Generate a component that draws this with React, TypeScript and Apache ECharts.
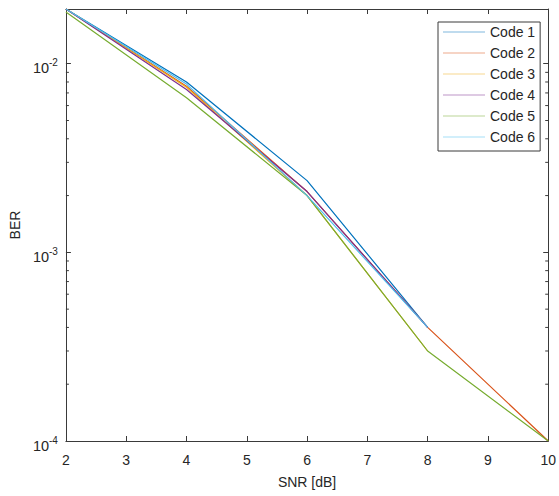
import React, { useEffect, useRef } from "react";
import * as echarts from "echarts";

const snr = [2, 4, 6, 8, 10];
const seriesNames = ["Code 1", "Code 2", "Code 3", "Code 4", "Code 5", "Code 6"];
const code1 = [0.0195, 0.0080, 0.0024, 0.0004, null];
const code2 = [0.0195, 0.0076, 0.0021, 0.0004, 0.0001];
const code3 = [0.0195, 0.0075, 0.0020, 0.0003, null];
const code4 = [0.0195, 0.0073, 0.0021, 0.0004, null];
const code5 = [0.0188, 0.0066, 0.0020, 0.0003, 0.0001];
const code6 = [0.0195, 0.0078, 0.0020, 0.0004, null];
const seriesValues = [code1, code2, code3, code4, code5, code6];
const colors = ["#0072BD", "#D95319", "#EDB120", "#7E2F8E", "#77AC30", "#4DBEEE"];
const minorTickValues = [
  2e-4, 3e-4, 4e-4, 5e-4, 6e-4, 7e-4, 8e-4, 9e-4,
  2e-3, 3e-3, 4e-3, 5e-3, 6e-3, 7e-3, 8e-3, 9e-3,
];
const X_MIN = 2;
const X_MAX = 10;
const Y_MIN = 1e-4;
const Y_MAX = 0.0195;

const FONT = "'Liberation Sans', Arial, Helvetica, sans-serif";
const AXIS_COLOR = "#3a3a3a";
const TEXT_COLOR = "#262626";
const LINE_ICON = "path://M0,0L100,0L100,1L0,1Z";

export default function App() {
  const ref = useRef<HTMLDivElement>(null);
  useEffect(() => {
    if (!ref.current) return;
    const chart = echarts.init(ref.current, null, { renderer: "svg" });
    const lineSeries = seriesNames.map((name, i) => ({
      name,
      type: "line",
      data: snr.map((x, j) => [x, seriesValues[i][j]]),
      symbol: "none",
      showSymbol: false,
      connectNulls: false,
      lineStyle: { color: colors[i], width: 1.2 },
      itemStyle: { color: colors[i] },
      emphasis: { disabled: true },
      z: 2 + i,
    }));
    const option: any = {
      animation: false,
      textStyle: { fontFamily: FONT },
      grid: { left: 64, right: 8, top: 9, bottom: 55, containLabel: false },
      legend: {
        data: seriesNames.map((n) => ({ name: n, icon: LINE_ICON })),
        orient: "vertical",
        left: 438,
        top: 22,
        itemWidth: 42,
        itemHeight: 1.5,
        itemGap: 5,
        padding: [2, 5, 6, 5],
        backgroundColor: "#ffffff",
        borderColor: AXIS_COLOR,
        borderWidth: 1,
        borderRadius: 0,
        selectedMode: false,
        textStyle: { fontSize: 14, color: TEXT_COLOR, fontFamily: FONT, lineHeight: 16 },
      },
      xAxis: [
        {
          type: "value",
          min: X_MIN,
          max: X_MAX,
          interval: 1,
          name: "SNR [dB]",
          nameLocation: "middle",
          nameGap: 34,
          nameTextStyle: { fontSize: 14, color: TEXT_COLOR, fontFamily: FONT },
          axisLine: { show: true, lineStyle: { color: AXIS_COLOR, width: 1 } },
          axisTick: { show: true, inside: true, length: 5, lineStyle: { color: AXIS_COLOR } },
          axisLabel: { fontSize: 14, color: TEXT_COLOR, margin: 12, fontFamily: FONT },
          splitLine: { show: false },
        },
        {
          type: "value",
          position: "top",
          min: X_MIN,
          max: X_MAX,
          interval: 1,
          axisLine: { show: true, lineStyle: { color: AXIS_COLOR, width: 1 } },
          axisTick: { show: true, inside: true, length: 5, lineStyle: { color: AXIS_COLOR } },
          axisLabel: { show: false },
          splitLine: { show: false },
        },
      ],
      yAxis: [
        {
          type: "log",
          logBase: 10,
          min: Y_MIN,
          max: Y_MAX,
          name: "BER",
          nameLocation: "middle",
          nameGap: 36,
          nameTextStyle: { fontSize: 14, color: TEXT_COLOR, fontFamily: FONT },
          axisLine: { show: true, lineStyle: { color: AXIS_COLOR, width: 1 } },
          axisTick: { show: true, inside: true, length: 5, lineStyle: { color: AXIS_COLOR } },
          axisLabel: {
            margin: 8,
            showMaxLabel: false,
            padding: [0, 0, 2, 0],
            formatter: (v: number) => {
              const e = Math.log10(v);
              if (Math.abs(e - Math.round(e)) > 1e-6) return "";
              return "{a|10}{b|" + Math.round(e) + "}";
            },
            rich: {
              a: { fontSize: 14.5, color: TEXT_COLOR, fontFamily: FONT, lineHeight: 26, verticalAlign: "bottom" },
              b: { fontSize: 10, color: TEXT_COLOR, fontFamily: FONT, lineHeight: 12, verticalAlign: "middle" },
            },
          },
          splitLine: { show: false },
          minorTick: { show: false },
        },
        {
          type: "log",
          logBase: 10,
          position: "right",
          min: Y_MIN,
          max: Y_MAX,
          axisLine: { show: true, lineStyle: { color: AXIS_COLOR, width: 1 } },
          axisTick: { show: true, inside: true, length: 5, lineStyle: { color: AXIS_COLOR } },
          axisLabel: { show: false },
          splitLine: { show: false },
        },
      ],
      series: [
        ...lineSeries,
        {
          type: "custom",
          name: "minorTicks",
          silent: true,
          clip: false,
          xAxisIndex: 0,
          yAxisIndex: 0,
          encode: { x: 0, y: 1 },
          data: minorTickValues.map((v) => [X_MIN, v]),
          renderItem: (params: any, api: any) => {
            const v = api.value(1);
            const p = api.coord([X_MIN, v]);
            const q = api.coord([X_MAX, v]);
            const st = { stroke: AXIS_COLOR, lineWidth: 1 };
            return {
              type: "group",
              children: [
                { type: "line", shape: { x1: p[0], y1: p[1], x2: p[0] + 3, y2: p[1] }, style: st },
                { type: "line", shape: { x1: q[0] - 3, y1: q[1], x2: q[0], y2: q[1] }, style: st },
              ],
            };
          },
          z: 1,
        },
      ],
    };
    chart.setOption(option);
    return () => chart.dispose();
  }, []);
  return (
    <div
      ref={ref}
      style={{ position: "fixed", left: 0, top: 0, width: 559, height: 496, background: "#ffffff" }}
    />
  );
}
